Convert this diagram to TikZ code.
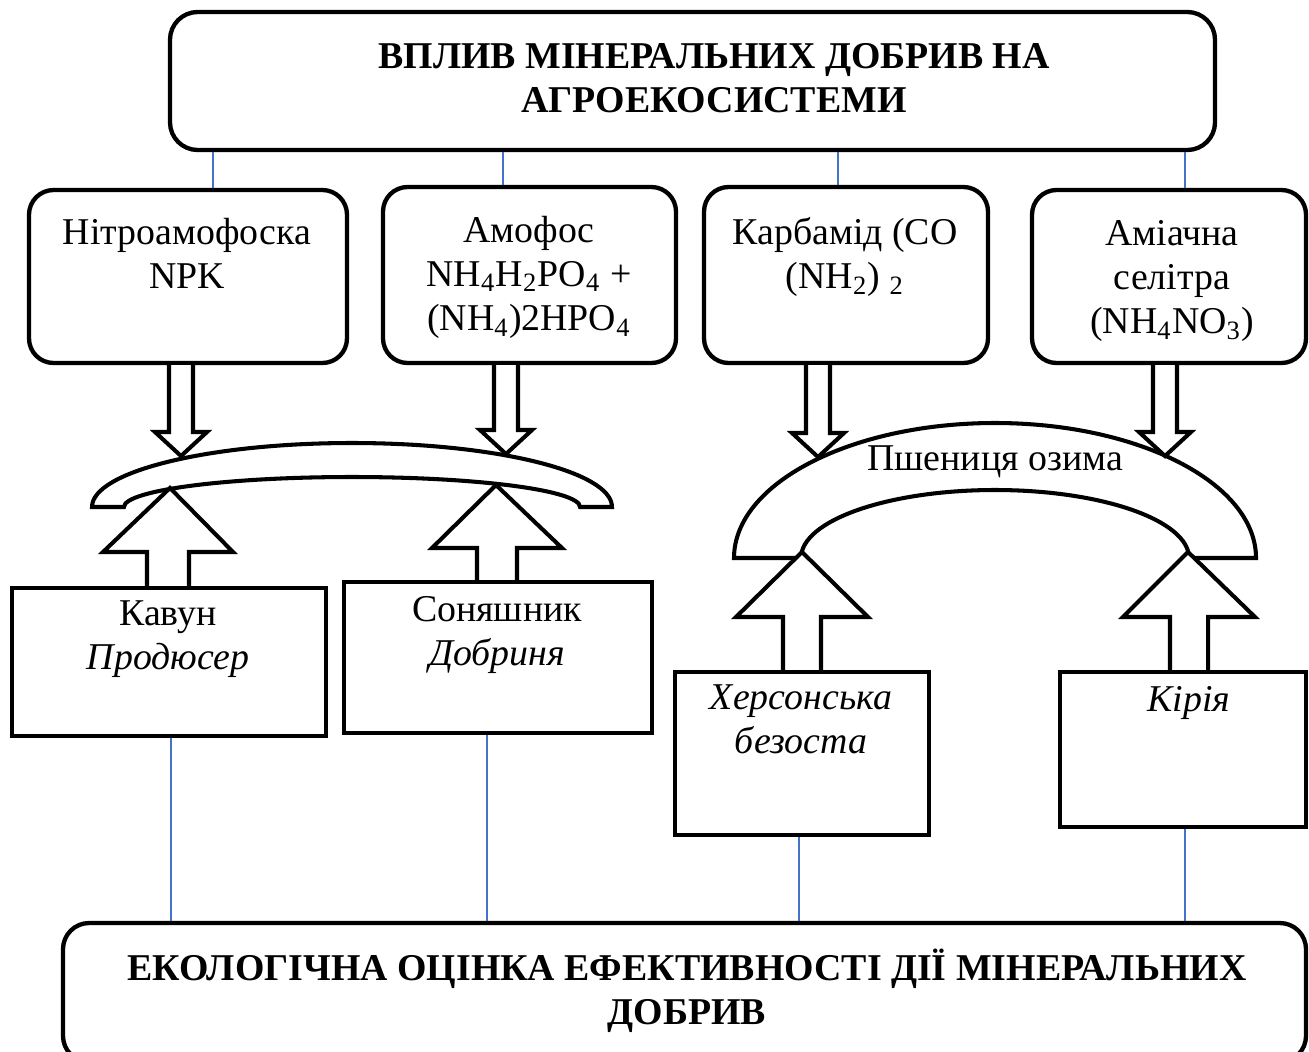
\documentclass[tikz,border=0pt]{standalone}
\usepackage{fontspec}
\setmainfont{Liberation Serif}
\usetikzlibrary{calc,positioning}

\definecolor{linkblue}{RGB}{68,114,196}
\newcommand{\px}{0.013cm}

% hollow block arrows, drawn from a box edge to a tip
\newcommand{\hollowdown}[5]{%
  \draw[blockarr] let \p1=(#1), \p2=(#2) in
    (\x1-#3,\y1) -- (\x1-#3,\y2+#5) -- (\x1-#4,\y2+#5) -- (\x2,\y2)
    -- (\x1+#4,\y2+#5) -- (\x1+#3,\y2+#5) -- (\x1+#3,\y1);}
\newcommand{\hollowup}[5]{%
  \draw[blockarr] let \p1=(#1), \p2=(#2) in
    (\x1-#3,\y1) -- (\x1-#3,\y2-#5) -- (\x1-#4,\y2-#5) -- (\x2,\y2)
    -- (\x1+#4,\y2-#5) -- (\x1+#3,\y2-#5) -- (\x1+#3,\y1);}

\tikzset{
  roundbox/.style={draw, line width=1.6pt, rounded corners=0.36cm, inner sep=0pt},
  cropbox/.style={draw, line width=1.6pt, inner sep=0pt},
  link/.style={draw=linkblue, line width=0.6pt},
  blockarr/.style={draw, fill=white, line width=1.5pt, line join=miter},
  txt/.style={align=center, inner sep=0pt},
}

\begin{document}
\begin{tikzpicture}[x=\px, y=-\px, font=\fontsize{14pt}{16.3pt}\selectfont]
  \useasboundingbox (0,0) rectangle (1309,1051);

  % boxes
  \node[roundbox, minimum width=1045*\px, minimum height=138*\px] (top) at (692.5,81) {};
  \node[roundbox, minimum width=318*\px, minimum height=173*\px, rounded corners=0.32cm] (nitro) at (188,276.5) {};
  \node[roundbox, minimum width=293*\px, minimum height=176*\px, rounded corners=0.32cm] (amofos) at (529.5,275) {};
  \node[roundbox, minimum width=284*\px, minimum height=176*\px, rounded corners=0.32cm] (karb) at (846,275) {};
  \node[roundbox, minimum width=274*\px, minimum height=173*\px, rounded corners=0.32cm] (selitra) at (1169,276.5) {};

  \node[cropbox, minimum width=314*\px, minimum height=148*\px] (kavun) at (169,662) {};
  \node[cropbox, minimum width=308*\px, minimum height=151*\px] (sonyash) at (498,657.5) {};
  \node[cropbox, minimum width=254*\px, minimum height=163*\px] (kherson) at (802,753.5) {};
  \node[cropbox, minimum width=246*\px, minimum height=155*\px] (kiria) at (1183,749.5) {};

  \node[roundbox, minimum width=1243*\px, minimum height=139*\px, rounded corners=0.34cm] (bottom) at (684.5,992.5) {};

  % texts
  \node[txt, font=\fontsize{14pt}{16.3pt}\selectfont\bfseries] (topT) at (714,78)
    {ВПЛИВ МІНЕРАЛЬНИХ ДОБРИВ НА\\АГРОЕКОСИСТЕМИ};
  \node[txt] (nitroT) at (187,253) {Нітроамофоска\\NPK};
  \node[txt] (amofosT) at (529,277)
    {Амофос\\NH\textsubscript{4}H\textsubscript{2}PO\textsubscript{4} +\\(NH\textsubscript{4})2HPO\textsubscript{4}};
  \node[txt] (karbT) at (845,257) {Карбамід (CO\\(NH\textsubscript{2}) \textsubscript{2}};
  \node[txt] (selitraT) at (1172,281) {Аміачна\\селітра\\(NH\textsubscript{4}NO\textsubscript{3})};
  \node[txt] (kavunT) at (168,639) {Кавун\\\textit{Продюсер}};
  \node[txt] (sonyashT) at (497,635) {Соняшник\\\textit{Добриня}};
  \node[txt] (khersonT) at (801,719) {\textit{Херсонська}\\\textit{безоста}};
  \node[txt] (kiriaT) at (1189,703) {\textit{Кірія}};
  \node[txt, font=\fontsize{14pt}{16.3pt}\selectfont\bfseries] (bottomT) at (687,991)
    {ЕКОЛОГІЧНА ОЦІНКА ЕФЕКТИВНОСТІ ДІЇ МІНЕРАЛЬНИХ\\ДОБРИВ};

  % guides for the blue links
  \coordinate (t1) at (213,0);
  \coordinate (t2) at (503,0);
  \coordinate (t3) at (838,0);
  \coordinate (t4) at (1185,0);
  \coordinate (b1) at (171,0);
  \coordinate (b2) at (487,0);
  \coordinate (b3) at (799,0);
  \coordinate (b4) at (1185,0);

  \draw[link] (top.south -| t1) -- (nitro.north -| t1);
  \draw[link] (top.south -| t2) -- (amofos.north -| t2);
  \draw[link] (top.south -| t3) -- (karb.north -| t3);
  \draw[link] (top.south -| t4) -- (selitra.north -| t4);
  \draw[link] (kavun.south -| b1) -- (bottom.north -| b1);
  \draw[link] (sonyash.south -| b2) -- (bottom.north -| b2);
  \draw[link] (kherson.south -| b3) -- (bottom.north -| b3);
  \draw[link] (kiria.south -| b4) -- (bottom.north -| b4);

  % block arcs
  \draw[blockarr] (92,507) arc[start angle=180, end angle=0, x radius=3.38cm, y radius=0.832cm]
    -- (580,507) arc[start angle=0, end angle=180, x radius=2.964cm, y radius=0.39cm] -- cycle;
  \draw[blockarr] (734,558) arc[start angle=180, end angle=0, x radius=3.393cm, y radius=1.755cm]
    -- (1189,558) arc[start angle=0, end angle=180, x radius=2.522cm, y radius=0.884cm] -- cycle;
  \node[txt] (wheat) at (995,462) {Пшениця озима};

  % arrow tips on the arcs
  \coordinate (mixL1) at (181,456);
  \coordinate (mixL2) at (506,454);
  \coordinate (mixR1) at (818,457);
  \coordinate (mixR2) at (1165,456);
  \coordinate (mixL3) at (170,488);
  \coordinate (mixL4) at (496,485);
  \coordinate (mixR3) at (802,552);
  \coordinate (mixR4) at (1188,552);

  \coordinate (a1) at (181,0);
  \coordinate (a2) at (506,0);
  \coordinate (a3) at (818,0);
  \coordinate (a4) at (1165,0);
  \coordinate (u1) at (168,0);
  \coordinate (u2) at (497,0);
  \coordinate (u3) at (802,0);
  \coordinate (u4) at (1189,0);

  \hollowdown{nitro.south -| a1}{mixL1}{12*\px}{26*\px}{24*\px}
  \hollowdown{amofos.south -| a2}{mixL2}{12*\px}{26*\px}{24*\px}
  \hollowdown{karb.south -| a3}{mixR1}{12*\px}{26*\px}{24*\px}
  \hollowdown{selitra.south -| a4}{mixR2}{12*\px}{26*\px}{24*\px}

  \hollowup{kavun.north -| u1}{mixL3}{21*\px}{65*\px}{64*\px}
  \hollowup{sonyash.north -| u2}{mixL4}{20*\px}{65*\px}{63*\px}
  \hollowup{kherson.north -| u3}{mixR3}{19*\px}{66*\px}{65*\px}
  \hollowup{kiria.north -| u4}{mixR4}{19*\px}{66*\px}{65*\px}
\end{tikzpicture}
\end{document}
